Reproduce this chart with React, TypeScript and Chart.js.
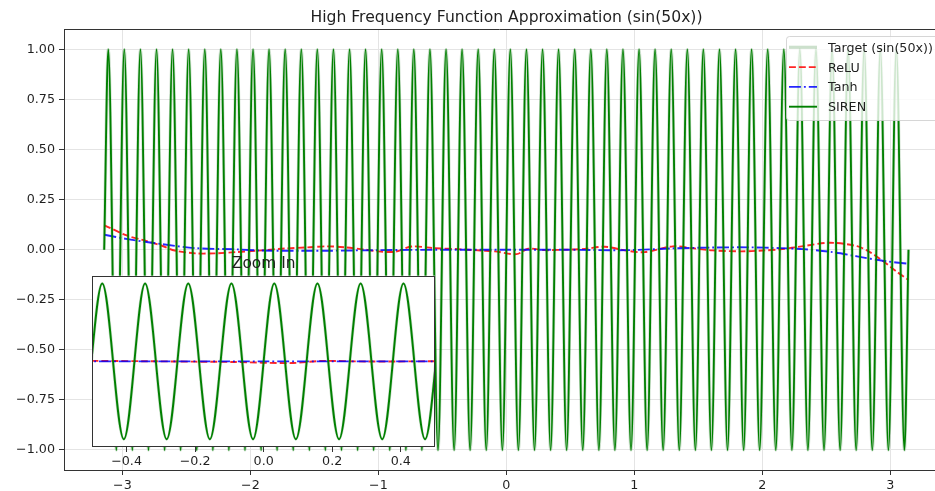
import React, { useEffect, useRef } from 'react';
import { Chart, registerables } from 'chart.js';

Chart.register(...registerables);

const FONT = '"DejaVu Sans", sans-serif';

// ---- data ----
// x positions of the extrema of the high-frequency target (plus both ends)
const targetX = [
  -3.142,
  -3.110, -3.047, -2.985, -2.922, -2.859, -2.796, -2.733, -2.670, -2.608, -2.545,
  -2.482, -2.419, -2.356, -2.293, -2.231, -2.168, -2.105, -2.042, -1.979, -1.916,
  -1.854, -1.791, -1.728, -1.665, -1.602, -1.539, -1.477, -1.414, -1.351, -1.288,
  -1.225, -1.162, -1.100, -1.037, -0.974, -0.911, -0.848, -0.785, -0.723, -0.660,
  -0.597, -0.534, -0.471, -0.408, -0.346, -0.283, -0.220, -0.157, -0.094, -0.031,
  0.031, 0.094, 0.157, 0.220, 0.283, 0.346, 0.408, 0.471, 0.534, 0.597,
  0.660, 0.723, 0.785, 0.848, 0.911, 0.974, 1.037, 1.100, 1.162, 1.225,
  1.288, 1.351, 1.414, 1.477, 1.539, 1.602, 1.665, 1.728, 1.791, 1.854,
  1.916, 1.979, 2.042, 2.105, 2.168, 2.231, 2.293, 2.356, 2.419, 2.482,
  2.545, 2.608, 2.670, 2.733, 2.796, 2.859, 2.922, 2.985, 3.047, 3.110,
  3.142,
];
const targetY = [
  0,
  1, -1, 1, -1, 1, -1, 1, -1, 1, -1,
  1, -1, 1, -1, 1, -1, 1, -1, 1, -1,
  1, -1, 1, -1, 1, -1, 1, -1, 1, -1,
  1, -1, 1, -1, 1, -1, 1, -1, 1, -1,
  1, -1, 1, -1, 1, -1, 1, -1, 1, -1,
  1, -1, 1, -1, 1, -1, 1, -1, 1, -1,
  1, -1, 1, -1, 1, -1, 1, -1, 1, -1,
  1, -1, 1, -1, 1, -1, 1, -1, 1, -1,
  1, -1, 1, -1, 1, -1, 1, -1, 1, -1,
  1, -1, 1, -1, 1, -1, 1, -1, 1, -1,
  0,
];
// SIREN overlaps the target to pixel precision
const sirenY = targetY.slice();

const reluX = [
  -3.14, -2.96, -2.82, -2.69, -2.59, -2.43, -2.28, -2.12, -1.91, -1.73, -1.55,
  -1.40, -1.26, -1.12, -1.00, -0.87, -0.74, -0.56, -0.35, -0.20, -0.09, 0.08,
  0.17, 0.30, 0.44, 0.61, 0.77, 0.95, 1.08, 1.30, 1.45, 1.61, 1.83, 2.00, 2.14,
  2.32, 2.53, 2.74, 2.84, 2.94, 3.04, 3.14,
];
const reluY = [
  0.122, 0.070, 0.045, 0.020, -0.004, -0.018, -0.018, -0.012, -0.003, 0.006, 0.012,
  0.017, 0.012, 0.002, -0.008, -0.010, 0.016, 0.008, 0.002, -0.004, -0.008, -0.022,
  0.005, -0.002, 0.000, 0.004, 0.015, -0.006, -0.012, 0.017, 0.008, -0.003, -0.008, -0.004, 0.002,
  0.018, 0.035, 0.018, -0.012, -0.055, -0.105, -0.150,
];

const tanhX = [
  -3.14, -2.96, -2.69, -2.43, -2.12, -1.91, -1.60, -1.40, -1.00, -0.50, 0.00,
  0.44, 0.95, 1.30, 1.61, 1.90, 2.14, 2.32, 2.53, 2.74, 2.95, 3.14,
];
const tanhY = [
  0.075, 0.053, 0.028, 0.008, 0.002, -0.004, -0.005, -0.005, -0.002, 0.000, 0.000,
  0.000, -0.002, 0.007, 0.011, 0.012, 0.008, 0.003, -0.010, -0.033, -0.056, -0.070,
];

const xTickValues = [-3, -2, -1, 0, 1, 2, 3];
const xTickLabels = ['\u22123', '\u22122', '\u22121', '0', '1', '2', '3'];
const yTickValues = [-1, -0.75, -0.5, -0.25, 0, 0.25, 0.5, 0.75, 1];
const yTickLabels = ['\u22121.00', '\u22120.75', '\u22120.50', '\u22120.25', '0.00', '0.25', '0.50', '0.75', '1.00'];
const insetTickValues = [-0.4, -0.2, 0, 0.2, 0.4];
const insetTickLabels = ['\u22120.4', '\u22120.2', '0.0', '0.2', '0.4'];

const seriesLabels = ['Target (sin(50x))', 'ReLU', 'Tanh', 'SIREN'];
const TITLE = 'High Frequency Function Approximation (sin(50x))';
const INSET_TITLE = 'Zoom In';

// ---- styles ----
const STYLES = [
  { color: 'rgba(0,100,0,0.2)', width: 3.2, dash: [] as number[] },
  { color: 'rgba(255,0,0,0.85)', width: 1.9, dash: [6.9, 3] },
  { color: 'rgba(0,0,255,0.85)', width: 1.9, dash: [11.9, 3, 1.9, 3] },
  { color: '#008000', width: 1.9, dash: [] as number[] },
];
const TEXT = '#1f1f1f';
const SPINE = '#333333';
const TICK_SIZE = 12.7;

const pts = (xs: number[], ys: number[]) => xs.map((x, i) => ({ x, y: ys[i] }));

function makeDatasets(clip?: number) {
  const base: any = { pointRadius: 0, fill: false };
  if (clip !== undefined) base.clip = clip;
  return [
    { ...base, label: seriesLabels[3], data: pts(targetX, sirenY), borderColor: STYLES[3].color, borderWidth: STYLES[3].width, cubicInterpolationMode: 'monotone', order: 0 },
    { ...base, label: seriesLabels[2], data: pts(tanhX, tanhY), borderColor: STYLES[2].color, borderWidth: STYLES[2].width, borderDash: STYLES[2].dash, tension: 0.3, order: 1 },
    { ...base, label: seriesLabels[1], data: pts(reluX, reluY), borderColor: STYLES[1].color, borderWidth: STYLES[1].width, borderDash: STYLES[1].dash, tension: 0.3, order: 2 },
    { ...base, label: seriesLabels[0], data: pts(targetX, targetY), borderColor: STYLES[0].color, borderWidth: STYLES[0].width, cubicInterpolationMode: 'monotone', order: 3 },
  ];
}

const tickFont = { family: FONT, size: TICK_SIZE };

export default function App() {
  const mainRef = useRef<HTMLCanvasElement>(null);
  const insetRef = useRef<HTMLCanvasElement>(null);

  useEffect(() => {
    if (!mainRef.current || !insetRef.current) return;

    const mainDecor = {
      id: 'mainDecor',
      afterDraw(chart: any) {
        const { ctx, chartArea } = chart;
        ctx.save();
        // top spine
        ctx.strokeStyle = SPINE;
        ctx.lineWidth = 1;
        ctx.beginPath();
        ctx.moveTo(chartArea.left, Math.round(chartArea.top) + 0.5 - 1);
        ctx.lineTo(chartArea.right, Math.round(chartArea.top) + 0.5 - 1);
        ctx.stroke();
        // title
        ctx.fillStyle = TEXT;
        ctx.font = `15.6px ${FONT}`;
        ctx.textAlign = 'center';
        ctx.textBaseline = 'alphabetic';
        ctx.fillText(TITLE, 506.5, 21.7);
        // legend
        const lx = 786, ly = 36, lw = 175, lh = 84;
        ctx.beginPath();
        if (ctx.roundRect) ctx.roundRect(lx + 0.5, ly + 0.5, lw, lh, 3);
        else ctx.rect(lx + 0.5, ly + 0.5, lw, lh);
        ctx.fillStyle = 'rgba(255,255,255,0.8)';
        ctx.fill();
        ctx.strokeStyle = 'rgba(204,204,204,0.8)';
        ctx.lineWidth = 1;
        ctx.stroke();
        const rows = [47.3, 67.1, 86.9, 106.7];
        seriesLabels.forEach((lab, i) => {
          const st = STYLES[i];
          const y = rows[i];
          ctx.beginPath();
          ctx.setLineDash(st.dash);
          ctx.strokeStyle = st.color;
          ctx.lineWidth = st.width;
          ctx.moveTo(789, y);
          ctx.lineTo(817, y);
          ctx.stroke();
          ctx.setLineDash([]);
          ctx.fillStyle = TEXT;
          ctx.font = `${TICK_SIZE}px ${FONT}`;
          ctx.textAlign = 'left';
          ctx.fillText(lab, 828, y + 4.4);
        });
        ctx.restore();
      },
    };

    const main = new Chart(mainRef.current, {
      type: 'line',
      data: { datasets: makeDatasets() as any },
      options: {
        animation: false,
        responsive: true,
        maintainAspectRatio: false,
        events: [],
        layout: { padding: { top: 29.5, left: 0, right: 0, bottom: 0 } },
        plugins: { legend: { display: false }, tooltip: { enabled: false }, title: { display: false } },
        scales: {
          x: {
            type: 'linear',
            min: -3.456,
            max: 3.349,
            afterBuildTicks: (s: any) => { s.ticks = xTickValues.map((v) => ({ value: v })); },
            afterFit: (s: any) => { s.height = 21; },
            ticks: {
              autoSkip: false, maxRotation: 0, padding: 3, color: TEXT, font: tickFont,
              callback: (v: any) => xTickLabels[xTickValues.indexOf(Number(v))] ?? '',
            },
            grid: { color: '#e4e4e4', lineWidth: 1, tickColor: SPINE, tickLength: 5 },
            border: { color: SPINE, width: 1 },
          },
          y: {
            type: 'linear',
            min: -1.1,
            max: 1.1,
            afterBuildTicks: (s: any) => { s.ticks = yTickValues.map((v) => ({ value: v })); },
            afterFit: (s: any) => { s.width = 64; },
            ticks: {
              autoSkip: false, padding: 4, color: TEXT, font: tickFont,
              callback: (v: any) => yTickLabels[yTickValues.indexOf(Number(v))] ?? '',
            },
            grid: { color: '#e4e4e4', lineWidth: 1, tickColor: SPINE, tickLength: 5 },
            border: { color: SPINE, width: 1 },
          },
        },
      } as any,
      plugins: [mainDecor],
    });

    const insetDecor = {
      id: 'insetDecor',
      beforeDraw(chart: any) {
        const { ctx, chartArea } = chart;
        ctx.save();
        ctx.fillStyle = '#ffffff';
        ctx.fillRect(chartArea.left, chartArea.top, chartArea.right - chartArea.left, chartArea.bottom - chartArea.top);
        ctx.restore();
      },
      afterDraw(chart: any) {
        const { ctx, chartArea } = chart;
        ctx.save();
        ctx.strokeStyle = SPINE;
        ctx.lineWidth = 1;
        const l = Math.round(chartArea.left) + 0.5;
        const t = Math.round(chartArea.top) + 0.5;
        const r = Math.round(chartArea.right) - 0.5;
        const b = Math.round(chartArea.bottom) - 0.5;
        ctx.strokeRect(l, t, r - l, b - t);
        ctx.fillStyle = TEXT;
        ctx.font = `15.4px ${FONT}`;
        ctx.textAlign = 'center';
        ctx.textBaseline = 'alphabetic';
        ctx.fillText(INSET_TITLE, (chartArea.left + chartArea.right) / 2, 18.3);
        ctx.restore();
      },
    };

    const inset = new Chart(insetRef.current, {
      type: 'line',
      data: { datasets: makeDatasets(0) as any },
      options: {
        animation: false,
        responsive: true,
        maintainAspectRatio: false,
        events: [],
        layout: { padding: { top: 25.7, left: 12.3, right: 15, bottom: 0 } },
        plugins: { legend: { display: false }, tooltip: { enabled: false }, title: { display: false } },
        scales: {
          x: {
            type: 'linear',
            min: -0.5,
            max: 0.5,
            afterBuildTicks: (s: any) => { s.ticks = insetTickValues.map((v) => ({ value: v })); },
            afterFit: (s: any) => { s.height = 28; },
            ticks: {
              autoSkip: false, maxRotation: 0, padding: 2, color: TEXT, font: tickFont,
              callback: (v: any) => insetTickLabels[insetTickValues.indexOf(Number(v))] ?? '',
            },
            grid: { drawOnChartArea: false, tickColor: SPINE, tickLength: 5, lineWidth: 1 },
            border: { display: false },
          },
          y: { type: 'linear', display: false, min: -1.1, max: 1.1 },
        },
      } as any,
      plugins: [insetDecor],
    });

    return () => {
      main.destroy();
      inset.destroy();
    };
  }, []);

  return (
    <div style={{ position: 'fixed', left: 0, top: 0, width: 935, height: 491, background: '#ffffff', overflow: 'hidden' }}>
      <div style={{ position: 'absolute', left: 0, top: 0, width: 935, height: 491 }}>
        <canvas ref={mainRef} />
      </div>
      <div style={{ position: 'absolute', left: 80, top: 250, width: 370, height: 225 }}>
        <canvas ref={insetRef} />
      </div>
    </div>
  );
}
